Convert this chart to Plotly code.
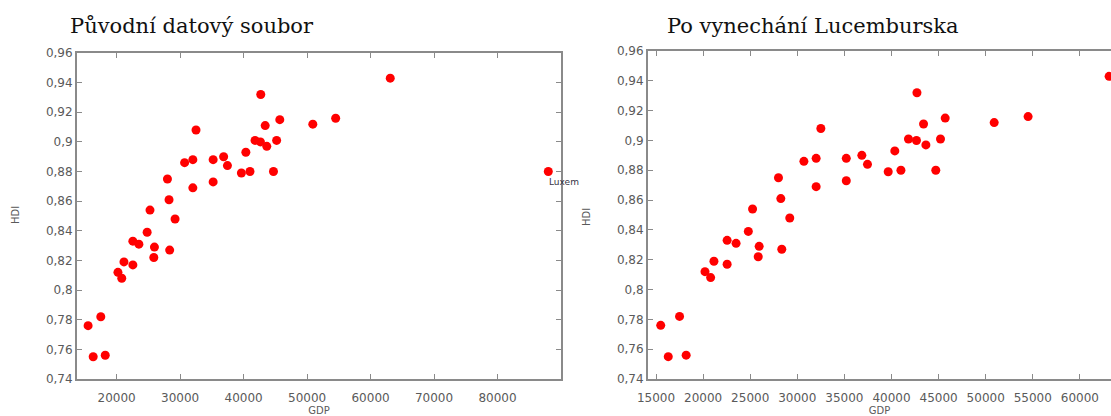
import plotly.graph_objects as go

# Data
gdp = [15500, 16300, 17500, 18200, 20200, 20800, 21150, 22550, 22550, 23500,
       24800, 25250, 25950, 25850, 28000, 28250, 28350, 29200, 30700, 32000,
       32000, 32500, 35200, 35200, 36850, 37450, 39650, 40350, 41000, 41800,
       42650, 42700, 43400, 43650, 45200, 45700, 44700, 50900, 54500, 63100]
hdi = [0.776, 0.755, 0.782, 0.756, 0.812, 0.808, 0.819, 0.833, 0.817, 0.831,
       0.839, 0.854, 0.829, 0.822, 0.875, 0.861, 0.827, 0.848, 0.886, 0.888,
       0.869, 0.908, 0.888, 0.873, 0.890, 0.884, 0.879, 0.893, 0.880, 0.901,
       0.900, 0.932, 0.911, 0.897, 0.901, 0.915, 0.880, 0.912, 0.916, 0.943]
lux_gdp = [88000]
lux_hdi = [0.880]
lux_label = "Luxem"

y_ticks = [0.74, 0.76, 0.78, 0.80, 0.82, 0.84, 0.86, 0.88, 0.90, 0.92, 0.94, 0.96]
y_ticktext = ["0,74", "0,76", "0,78", "0,8", "0,82", "0,84", "0,86", "0,88", "0,9", "0,92", "0,94", "0,96"]
x1_ticks = [20000, 30000, 40000, 50000, 60000, 70000, 80000]
x2_ticks = [15000, 20000, 25000, 30000, 35000, 40000, 45000, 50000, 55000, 60000]

title_left = "Původní datový soubor"
title_right = "Po vynechání Lucemburska"

W, H = 1111, 416
RED = "#ff0000"
GRAY = "#8a8a8a"
TXT = "#5a5a5a"

fig = go.Figure()
fig.add_trace(go.Scatter(x=gdp + lux_gdp, y=hdi + lux_hdi, mode="markers",
                         marker=dict(color=RED, size=9), xaxis="x", yaxis="y",
                         showlegend=False))
fig.add_trace(go.Scatter(x=gdp, y=hdi, mode="markers",
                         marker=dict(color=RED, size=9), xaxis="x2", yaxis="y2",
                         showlegend=False))

axis_common = dict(showline=True, linecolor=GRAY, linewidth=2, ticks="inside",
                   ticklen=5, tickcolor=GRAY, tickwidth=1, showgrid=False,
                   zeroline=False, automargin=False,
                   tickfont=dict(family="DejaVu Sans", size=12, color=TXT))
lab = dict(family="DejaVu Sans", size=10, color=TXT)

fig.update_layout(
    width=W, height=H, margin=dict(l=0, r=0, t=0, b=0),
    paper_bgcolor="white", plot_bgcolor="white",
    xaxis=dict(domain=[77 / W, 561 / W], range=[13750, 90000], anchor="y",
               tickvals=x1_ticks, ticktext=[str(v) for v in x1_ticks],
               mirror="ticks", ticklabelstandoff=7,
               title=dict(text="GDP", font=lab, standoff=4), **axis_common),
    yaxis=dict(domain=[1 - 379 / H, 1 - 53 / H], range=[0.74, 0.96], anchor="x",
               tickvals=y_ticks, ticktext=y_ticktext, mirror="ticks", **axis_common),
    xaxis2=dict(domain=[648 / W, 1.0], range=[14150, 63300], anchor="y2",
                tickvals=x2_ticks, ticktext=[str(v) for v in x2_ticks],
                mirror="ticks", ticklabelstandoff=7,
                title=dict(text="GDP", font=lab, standoff=4), **axis_common),
    yaxis2=dict(domain=[1 - 379 / H, 1 - 51 / H], range=[0.74, 0.96], anchor="x2",
                tickvals=y_ticks, ticktext=y_ticktext, mirror=False, **axis_common),
)

fig.add_annotation(x=lux_gdp[0], y=lux_hdi[0], xref="x", yref="y", text=lux_label,
                   showarrow=False, xanchor="left", yanchor="top", xshift=-1, yshift=-3,
                   font=dict(family="DejaVu Sans", size=9, color="#333344"))

# Titles and axis labels
serif = dict(family="DejaVu Serif", size=21, color="#111111")
fig.add_annotation(x=68 / W, y=1 - 26 / H, xref="paper", yref="paper", text=title_left,
                   showarrow=False, xanchor="left", yanchor="middle", font=serif)
fig.add_annotation(x=665 / W, y=1 - 26 / H, xref="paper", yref="paper", text=title_right,
                   showarrow=False, xanchor="left", yanchor="middle", font=serif)
fig.add_annotation(x=15 / W, y=1 - 215 / H, xref="paper", yref="paper", text="HDI",
                   showarrow=False, textangle=-90, xanchor="center", yanchor="middle", font=lab)
fig.add_annotation(x=586 / W, y=1 - 217 / H, xref="paper", yref="paper", text="HDI",
                   showarrow=False, textangle=-90, xanchor="center", yanchor="middle", font=lab)

fig.write_html("out.html")
